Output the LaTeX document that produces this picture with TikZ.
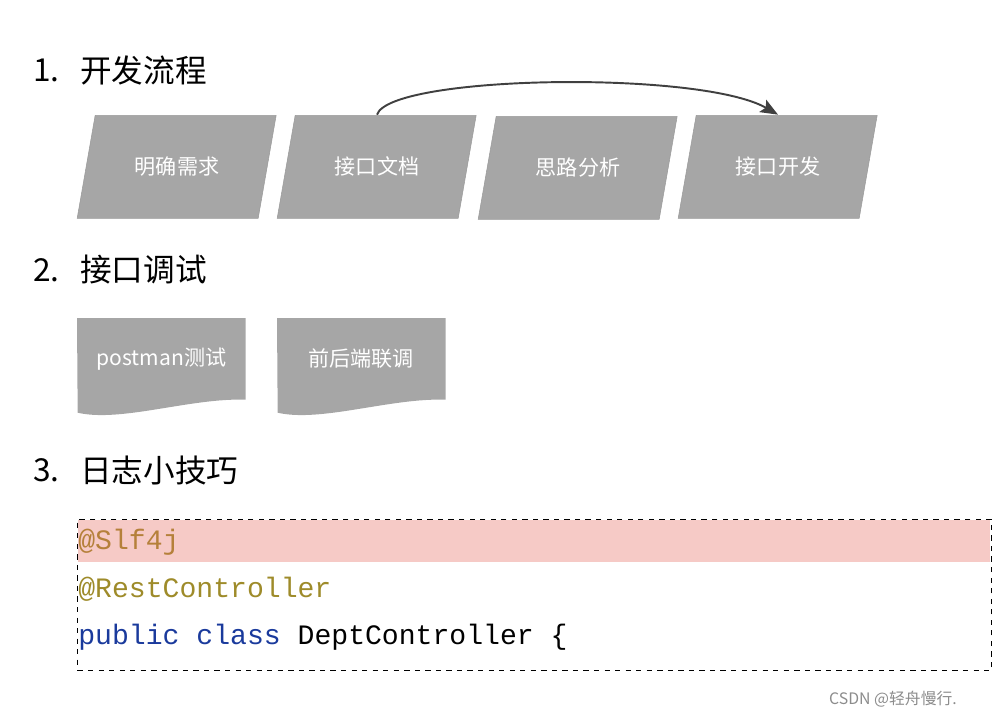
\documentclass[tikz,border=0pt]{standalone}
\usepackage{fontspec}
\setmainfont{Noto Sans CJK SC}
\setmonofont{Liberation Mono}
\usetikzlibrary{arrows.meta,backgrounds}

\definecolor{boxgray}{HTML}{A6A6A6}
\definecolor{boxline}{HTML}{9A9A9A}
\definecolor{arrowgray}{HTML}{404040}
\definecolor{bandpink}{HTML}{F6CAC6}
\definecolor{annoslf}{HTML}{B5803A}
\definecolor{annorest}{HTML}{9E8B2A}
\definecolor{kwblue}{HTML}{1A3A9C}
\definecolor{markgray}{HTML}{8C8C8C}

\tikzset{
	heading/.style={anchor=west,inner sep=0pt,font=\fontsize{18}{20}\selectfont},
	flowbox/.style={rectangle,minimum width=3.98cm,minimum height=2.06cm,inner sep=0pt,
		text=white,font=\fontsize{12}{14}\selectfont},
	docbox/.style={rectangle,anchor=north west,minimum width=3.36cm,minimum height=1.62cm,inner sep=0pt,
		text=white,font=\fontsize{12}{14}\selectfont},
	codeline/.style={anchor=base west,inner sep=0pt,font=\ttfamily\fontsize{16}{18}\selectfont}
}

\begin{document}
\begin{tikzpicture}[x=0.02cm,y=-0.02cm]
	\useasboundingbox (0,0) rectangle (999,720);

	\node[heading] (n1) at (33, 70)  {1.};
	\node[heading] (h1) at (80, 70)  {开发流程};
	\node[heading] (n2) at (33, 270) {2.};
	\node[heading] (h2) at (80, 270) {接口调试};
	\node[heading] (n3) at (33, 470) {3.};
	\node[heading] (h3) at (80, 470) {日志小技巧};

	\node[flowbox] (need) at (177, 166.5)  {明确需求};
	\node[flowbox] (doc)  at (377, 166.5)  {接口文档};
	\node[flowbox] (idea) at (578, 167.5)  {思路分析};
	\node[flowbox] (dev)  at (778, 166.5)  {接口开发};

	\node[docbox] (post) at (77, 318)  {postman测试};
	\node[docbox] (join) at (277, 318) {前后端联调};

	\begin{scope}[on background layer]
		\foreach \b in {need,doc,idea,dev}
			\filldraw[fill=boxgray,draw=boxline,line width=0.3pt]
				(\b.south west) -- ++(181, 0) -- ++(18, -103) -- ++(-181, 0) -- cycle;
		\foreach \b in {post,join}
			\fill[boxgray] (\b.north west) -- (\b.north east) -- (\b.south east)
				.. controls +(-55, -2) and +(43, 10) .. ++(-168, 13) -- cycle;
	\end{scope}

	\draw[arrowgray,line width=1.1pt,-{Stealth[length=10pt,width=8pt,inset=2pt]}]
		(doc.north) .. controls (390, 75) and (700, 70) .. (dev.north);

	\node[rectangle,anchor=north west,fill=bandpink,minimum width=18.24cm,minimum height=0.84cm,inner sep=0pt] (band) at (78, 520) {};
	\node[rectangle,anchor=north west,draw=black,dashed,line width=0.5pt,minimum width=18.28cm,minimum height=3.02cm,inner sep=0pt] (code) at (77, 519) {};

	\node[codeline,text=annoslf]  (slf)  at (78, 549) {@Slf4j};
	\node[codeline,text=annorest] (rest) at (78, 597) {@RestController};
	\node[codeline] (cls) at (78, 644) {\textcolor{kwblue}{public class} DeptController \{};

	\node[text=markgray,inner sep=0pt,font=\fontsize{9}{11}\selectfont] (mark) at (893, 699) {CSDN @轻舟慢行.};

\end{tikzpicture}
\end{document}
